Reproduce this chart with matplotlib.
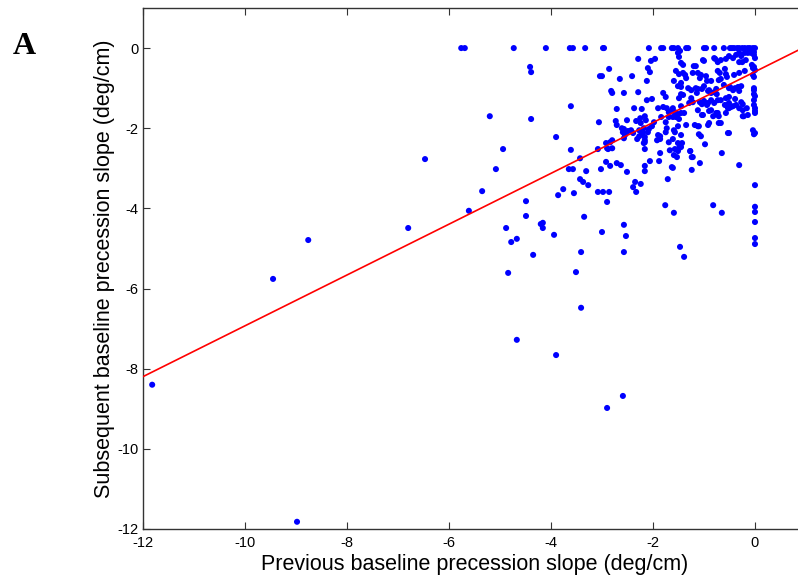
import numpy as np
import matplotlib.pyplot as plt

# =========================================================
# DATA (deg/cm)
# =========================================================

# points sitting on the y = 0 ceiling
zero_row_x = [-5.76, -5.69, -4.73, -4.10, -3.63, -3.57, -3.33, -2.98, -2.96,
              -2.08, -1.84, -1.80, -1.63, -1.59, -1.51, -1.35, -1.31, -1.00,
              -0.96, -0.80, -0.61, -0.49, -0.45, -0.41, -0.35, -0.31, -0.25,
              -0.20, -0.14, -0.10, -0.04, 0.0]

# dense cluster, upper part (y between 0 and -1.3)
cluster_upper = [
    (-1.51, -0.12), (-1.47, -0.07), (-2.29, -0.27), (-2.04, -0.32), (-1.96, -0.27),
    (-1.49, -0.22), (-1.45, -0.37), (-1.41, -0.42), (-1.20, -0.45), (-1.16, -0.45),
    (-1.00, -0.32), (-0.78, -0.27), (-0.73, -0.35), (-0.57, -0.27), (-0.43, -0.25),
    (-0.37, -0.17), (-0.31, -0.12), (-0.20, -0.12), (-0.14, -0.12), (-0.08, -0.12),
    (-0.02, -0.10), (-0.31, -0.35), (-0.25, -0.35), (-0.06, -0.42), (-0.02, -0.47),
    (0.0, -0.55), (-0.04, -0.50), (-2.86, -0.52), (-2.10, -0.50), (-2.06, -0.60),
    (-3.00, -0.70), (-2.65, -0.77), (-2.41, -0.70), (-2.12, -0.82), (-1.37, -0.67),
    (-1.35, -0.75), (-1.22, -0.62), (-1.12, -0.62), (-1.08, -0.75), (-1.06, -0.67),
    (-0.96, -0.70), (-0.94, -0.82), (-0.86, -0.82), (-0.73, -0.57), (-0.69, -0.62),
    (-0.71, -0.80), (-0.67, -0.77), (-0.59, -0.52), (-0.57, -0.65), (-0.55, -0.72),
    (-0.41, -0.67), (-0.31, -0.62), (-0.20, -0.57), (-0.04, -0.67), (-0.02, -0.72),
    (-1.45, -0.87), (-1.51, -0.95), (-1.45, -0.97), (-2.82, -1.07), (-2.80, -1.12),
    (-2.57, -1.12), (-2.29, -1.10), (-1.80, -1.12), (-1.75, -1.22), (-1.45, -1.15),
    (-1.16, -1.00), (-1.12, -1.02), (-1.14, -1.12), (-1.04, -1.02), (-0.90, -1.05),
    (-0.80, -1.10), (-0.76, -1.02), (-0.75, -1.15), (-0.49, -0.97), (-0.43, -1.05),
    (-0.39, -1.00), (-0.33, -0.97), (-0.31, -1.07), (-0.02, -1.05), (-0.02, -1.15),
    (-0.51, -1.22), (-2.12, -1.30), (-2.02, -1.27), (-1.55, -0.57), (-1.49, -0.65),
    (-1.41, -0.62), (-1.59, -0.82), (-1.31, -1.00), (-1.25, -1.05), (-1.00, -0.95),
    (-0.92, -1.07), (-0.86, -1.12), (-0.61, -0.92), (-0.51, -1.00), (-0.27, -0.95),
    (-1.41, -1.17), (-1.49, -1.25), (-1.25, -1.25), (-0.57, -1.25), (-0.02, -1.00),
    (0.0, -1.20), (-1.02, -0.30), (-0.80, -0.25), (-0.67, -0.30), (-0.51, -0.20),
    (-0.27, -0.20), (-0.18, -0.30), (-0.02, -0.17), (0.0, -0.25),
]

# dense cluster, lower part (y between -1.3 and -2.6)
cluster_lower = [
    (-2.71, -1.52), (-2.37, -1.50), (-2.22, -1.52), (-1.90, -1.50), (-1.80, -1.47),
    (-1.73, -1.50), (-1.69, -1.60), (-1.63, -1.55), (-1.57, -1.60), (-1.45, -1.45),
    (-1.45, -1.62), (-1.29, -1.37), (-1.22, -1.35), (-1.08, -1.35), (-1.04, -1.40),
    (-0.94, -1.42), (-0.86, -1.30), (-0.80, -1.37), (-0.73, -1.30), (-0.86, -1.55),
    (-0.73, -1.62), (-0.59, -1.42), (-0.53, -1.50), (-0.47, -1.47), (-0.39, -1.27),
    (-0.27, -1.35), (-0.24, -1.40), (-0.16, -1.50), (-0.02, -1.30), (-0.02, -1.42),
    (0.0, -1.57), (-3.06, -1.85), (-2.73, -1.82), (-2.51, -1.80), (-2.33, -1.82),
    (-2.25, -1.75), (-2.16, -1.70), (-2.14, -1.80), (-2.24, -1.87), (-2.18, -2.00),
    (-2.22, -2.12), (-2.10, -2.10), (-2.08, -2.02), (-2.02, -1.95), (-1.98, -1.85),
    (-1.84, -1.72), (-1.75, -1.85), (-1.69, -1.72), (-1.61, -1.72), (-1.51, -1.65),
    (-1.55, -1.72), (-1.49, -1.77), (-1.51, -1.95), (-1.35, -1.92), (-1.18, -1.92),
    (-1.12, -1.95), (-1.04, -1.67), (-0.90, -1.87), (-0.67, -1.87), (-0.22, -1.70),
    (-0.14, -1.67), (-0.04, -2.05), (0.0, -2.12), (-0.02, -2.15), (-0.53, -2.12),
    (-0.98, -2.40), (-1.43, -2.37), (-1.49, -2.50), (-1.69, -2.35), (-1.86, -2.27),
    (-1.90, -2.17), (-1.73, -2.00), (-3.08, -2.52), (-2.92, -2.37), (-2.84, -2.35),
    (-2.80, -2.30), (-2.88, -2.52), (-2.57, -2.25), (-2.55, -2.17), (-2.43, -2.05),
    (-2.39, -2.12), (-2.57, -2.02), (-2.61, -2.00), (-2.71, -1.92), (-2.16, -2.30),
    (-2.18, -2.37), (-2.31, -2.27), (-2.27, -2.20), (-1.00, -1.32), (-0.92, -1.37),
    (-0.67, -1.30), (-0.51, -1.37), (-0.43, -1.45), (-0.37, -1.42), (-0.31, -1.50),
    (-0.24, -1.55), (0.0, -1.50), (0.0, -1.62), (-1.61, -1.50), (-1.55, -1.62),
    (-1.39, -1.62), (-1.12, -1.55), (-1.02, -1.67), (-0.90, -1.57), (-0.82, -1.70),
    (-0.76, -1.62), (-0.71, -1.70), (-0.57, -1.62), (-0.51, -1.50), (-0.24, -1.70),
    (-1.59, -2.05), (-1.10, -1.95), (-0.92, -1.92), (-0.71, -1.87), (-0.51, -2.12),
    (-1.45, -2.17), (-1.06, -2.20), (-2.59, -2.10), (-2.53, -2.12), (-2.49, -2.07),
    (-2.27, -2.05), (-2.20, -2.12), (-2.16, -2.22), (-2.16, -2.35), (-1.92, -2.30),
    (-1.86, -2.20), (-1.75, -2.10), (-1.61, -2.27), (-2.90, -2.50), (-2.80, -2.50),
    (-2.16, -2.52), (-1.67, -2.55), (-1.57, -2.52), (-1.57, -2.10), (-1.51, -2.37),
    (-1.45, -2.47), (-1.51, -2.57), (-1.10, -2.15), (-1.27, -2.57),
]

# looser points below the cluster
cluster_tail = [
    (-1.86, -2.62), (-1.59, -2.67), (-3.43, -2.75), (-2.92, -2.84), (-2.84, -2.94),
    (-2.71, -2.87), (-2.63, -2.92), (-3.02, -3.02), (-3.31, -3.07), (-2.51, -3.09),
    (-2.06, -2.82), (-2.16, -2.94), (-2.16, -3.07), (-1.88, -2.82), (-1.63, -2.97),
    (-1.71, -3.27), (-2.35, -3.34), (-2.39, -3.47), (-2.33, -3.59), (-2.24, -3.39),
    (-3.27, -3.42), (-3.08, -3.59), (-2.98, -3.59), (-2.86, -3.59), (-2.90, -3.84),
    (-1.76, -3.92), (-1.59, -4.11), (-2.57, -4.41), (-2.53, -4.69), (-2.57, -5.09),
    (-3.00, -4.59), (-1.53, -2.72), (-1.61, -2.99), (-1.22, -2.72), (-1.08, -2.87),
    (-1.24, -3.04), (-0.65, -2.62), (-0.31, -2.92), (0.0, -3.42), (-0.82, -3.92),
    (-0.65, -4.11), (0.0, -3.96), (0.0, -4.09), (0.0, -4.34), (0.0, -4.74),
    (0.0, -4.89), (-1.47, -4.96), (-1.39, -5.21), (-1.24, -2.72), (-1.27, -2.57),
]

# scattered points to the left and far below
sparse_pts = [
    (-4.41, -0.47), (-4.39, -0.60), (-3.04, -0.70), (-3.61, -1.45), (-5.20, -1.70),
    (-4.39, -1.77), (-3.90, -2.22), (-4.94, -2.52), (-3.61, -2.54), (-5.08, -3.02),
    (-3.65, -3.02), (-3.57, -3.02), (-3.43, -3.27), (-3.37, -3.34), (-5.35, -3.57),
    (-3.76, -3.52), (-3.86, -3.67), (-3.55, -3.62), (-5.61, -4.06), (-4.49, -3.82),
    (-4.49, -4.19), (-4.88, -4.49), (-4.78, -4.84), (-4.67, -4.76), (-4.35, -5.16),
    (-4.84, -5.61), (-4.20, -4.39), (-4.16, -4.36), (-4.16, -4.49), (-3.94, -4.66),
    (-4.67, -7.28), (-3.90, -7.66), (-3.35, -4.21), (-3.41, -5.09), (-3.51, -5.59),
    (-3.41, -6.48), (-2.90, -8.98), (-2.59, -8.68), (-11.82, -8.40), (-8.98, -11.82),
    (-9.45, -5.76), (-8.76, -4.79), (-6.80, -4.49), (-6.47, -2.77),
]

# least-squares line shown in red
fit_slope = 0.634
fit_intercept = -0.59
fit_x = [-12, 1]

x_ticks = [-12, -10, -8, -6, -4, -2, 0]
y_ticks = [-12, -10, -8, -6, -4, -2, 0]

# =========================================================
# COLLECT
# =========================================================

pts = [(x, 0.0) for x in zero_row_x] + cluster_upper + cluster_lower + cluster_tail + sparse_pts
prev = np.array([p[0] for p in pts])
subs = np.array([p[1] for p in pts])

line_x = np.array(fit_x, dtype=float)
line_y = fit_slope * line_x + fit_intercept

# =========================================================
# PLOT
# =========================================================

plt.rcParams['font.family'] = ['Liberation Sans', 'DejaVu Sans']

fig = plt.figure(figsize=(7.98, 5.84), dpi=100)
ax = fig.add_axes([0.1792, 0.0942, 0.8308, 0.8921])

ax.scatter(prev, subs, s=19, color='#0000ff', edgecolors='none', zorder=3)
ax.plot(line_x, line_y, color='#ff0000', linewidth=1.2, zorder=4)

ax.set_xlim(-12, 1)
ax.set_ylim(-12, 1)
ax.set_xticks(x_ticks)
ax.set_yticks(y_ticks)
ax.set_xticklabels([str(t) for t in x_ticks])
ax.set_yticklabels([str(t) for t in y_ticks])

ax.tick_params(direction='in', length=5, width=0.8, color='#333333',
               labelsize=10.5, top=True, right=True, pad=3)
ax.tick_params(axis='x', pad=5)
for sp in ax.spines.values():
    sp.set_color('#333333')
    sp.set_linewidth(1.0)

ax.set_xlabel('Previous baseline precession slope (deg/cm)', fontsize=15.5, labelpad=3)
ax.set_ylabel('Subsequent baseline precession slope (deg/cm)', fontsize=15.5, labelpad=2)

fig.text(0.016, 0.921, 'A', fontsize=23, fontweight='bold',
         family=['Liberation Serif', 'DejaVu Serif'], va='center')

fig.savefig('out.png', dpi=100)
